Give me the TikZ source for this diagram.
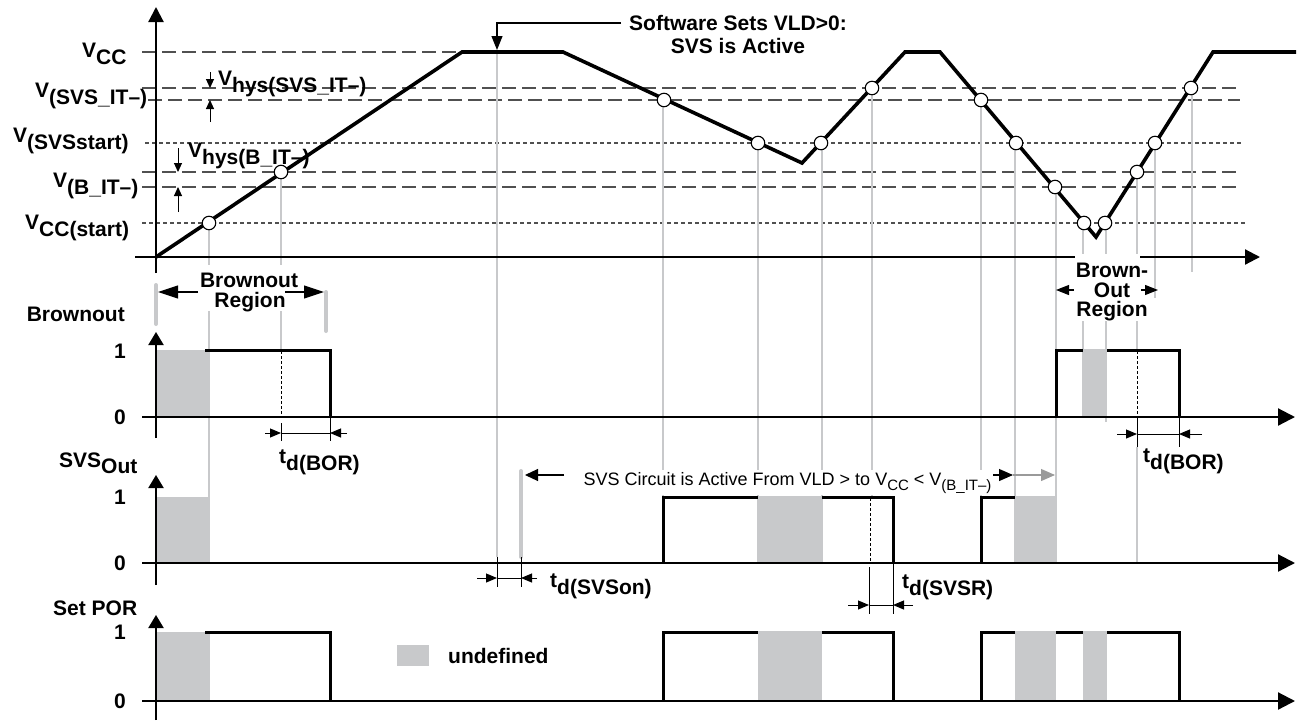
\documentclass[tikz,border=0pt]{standalone}
\usepackage{fontspec}
\setmainfont{Liberation Sans}
\usetikzlibrary{arrows.meta}
\definecolor{lg}{HTML}{C8C9CB}
\definecolor{dg}{HTML}{505050}
\definecolor{mg}{HTML}{9A9A9A}
\newcommand{\lb}{\fontsize{21}{22}\selectfont\bfseries}
\newcommand{\rg}{\fontsize{18}{19}\selectfont}
\newcommand{\dn}[1]{\raisebox{-7pt}{#1}}
\newcommand{\rdn}[1]{\raisebox{-5pt}{\fontsize{15}{15}\selectfont #1}}
\tikzset{
  lbl/.style={font=\lb, inner sep=0pt},
  refdash/.style={draw=dg, line width=1.1pt, dash pattern=on 14pt off 6pt},
  refdot/.style={draw=dg, line width=1.1pt, dash pattern=on 4pt off 3pt},
  guide/.style={draw=lg, line width=2pt},
  guidebar/.style={draw=lg, line width=4pt, line cap=round},
  axisline/.style={draw=black, line width=2.2pt},
  trace/.style={draw=black, line width=3.6pt, line join=miter},
  pulse/.style={draw=black, line width=3pt, line join=miter},
  undef/.style={fill=lg, draw=none},
  dot/.style={circle, draw=black, fill=white, line width=1.1pt, minimum size=13.5pt, inner sep=0pt},
  vtip/.style={-{Triangle[length=15pt,width=15pt]}},
  ltip/.style={-{Triangle[length=13pt,width=15pt]}},
  htip/.style={-{Triangle[length=17pt,width=17pt]}},
  dimtip/.style={line width=1pt, -{Triangle[length=11pt,width=9pt]}},
  smalltip/.style={line width=1pt, -{Triangle[length=9pt,width=8pt]}},
  tickline/.style={draw=black, line width=1pt},
  refv/.style={draw=black, line width=0.9pt, dash pattern=on 3pt off 2pt},
}
\begin{document}
\begin{tikzpicture}[x=1pt,y=-1pt]
\useasboundingbox (0,0) rectangle (1299,721);

% ---------- reference levels ----------
\draw[refdash] (142,52) -- (462,52);
\draw[refdash] (142,88) -- (1240,88);
\draw[refdash] (148,100) -- (1240,100);
\draw[refdot] (145,143) -- (1243,143);
\draw[refdash] (142,172) -- (1242,172);
\draw[refdash] (142,187) -- (1242,187);
\draw[refdot] (142,223) -- (1247,223);

% ---------- grey guide lines ----------
\draw[guide] (209,223) -- (209,265);
\draw[guide] (209,311) -- (209,563);
\draw[guide] (281,172) -- (281,265);
\draw[guide] (281,311) -- (281,350);
\draw[guide] (497,52) -- (497,557);
\draw[guide] (663,100) -- (663,497);
\draw[guide] (758,143) -- (758,563);
\draw[guide] (822,143) -- (822,563);
\draw[guide] (872,88) -- (872,497);
\draw[guide] (981,100) -- (981,497);
\draw[guide] (1015,143) -- (1015,563);
\draw[guide] (1056,187) -- (1056,563);
\draw[guide] (1083,223) -- (1083,417);
\draw[guide] (1106,223) -- (1106,422);
\draw[guide] (1137,172) -- (1137,350);
\draw[guide] (1137,447) -- (1137,563);
\draw[guide] (1155,143) -- (1155,298);
\draw[guide] (1192,88) -- (1192,272);
\draw[guidebar] (521,471) -- (521,557);
\draw[guidebar] (156,285) -- (156,324);
\draw[guidebar] (326,292) -- (326,331);

% ---------- undefined areas ----------
\fill[undef] (156,350) rectangle (210,417);
\fill[undef] (1083,348.5) rectangle (1107,417);
\fill[undef] (156,497) rectangle (210,563);
\fill[undef] (758,495.5) rectangle (822,563);
\fill[undef] (1015,495.5) rectangle (1056,563);
\fill[undef] (156,632) rectangle (210,701);
\fill[undef] (758,630.5) rectangle (822,701);
\fill[undef] (1015,630.5) rectangle (1056,701);
\fill[undef] (1083,630.5) rectangle (1107,701);
\fill[undef] (397,645) rectangle (429,666);

% ---------- axes ----------
\draw[axisline, vtip] (156,273) -- (156,7);
\draw[axisline, vtip] (135,257) -- (1260,257);
\draw[axisline, ltip] (156,438) -- (156,332);
\draw[axisline, htip] (142,417) -- (1295,417);
\draw[axisline, ltip] (156,585) -- (156,475);
\draw[axisline, htip] (142,563) -- (1295,563);
\draw[axisline, ltip] (156,720) -- (156,615);
\draw[axisline, htip] (142,701) -- (1295,701);

% ---------- analog trace ----------
\draw[trace] (156,257) -- (462,52) -- (563,52) -- (802,163) -- (905,52)
  -- (940,52) -- (1096,237) -- (1213,52) -- (1296,52);

% ---------- digital pulses ----------
% Brownout
\draw[pulse] (205,350) -| (330,417);
\draw[pulse] (1056,417) |- (1083,350);
\draw[pulse] (1107,350) -| (1179,417);
% SVS out
\draw[pulse] (663,563) |- (758,497);
\draw[pulse] (822,497) -| (893,563);
\draw[pulse] (981,563) |- (1015,497);
% Set POR
\draw[pulse] (205,632) -| (330,701);
\draw[pulse] (663,701) |- (758,632);
\draw[pulse] (822,632) -| (893,701);
\draw[pulse] (981,701) |- (1015,632);
\draw[pulse] (1056,632) -- (1083,632);
\draw[pulse] (1107,632) -| (1179,701);

% ---------- delay references ----------
\draw[refv] (281,351) -- (281,417);
\draw[refv] (1137,351) -- (1137,417);
\draw[refv] (870,498) -- (870,563);

\draw[tickline] (281,423) -- (281,441);
\draw[tickline] (330,417) -- (330,441);
\draw[tickline] (1137,417) -- (1137,447);
\draw[tickline] (1179,417) -- (1179,447);
\draw[tickline] (497,557) -- (497,587);
\draw[tickline] (521,557) -- (521,587);
\draw[tickline] (869,567) -- (869,614);
\draw[tickline] (893,563) -- (893,614);

\coordinate (bA) at (281,433); \coordinate (bB) at (330,433);
\draw[dimtip] (265,433) -- (bA);
\draw[dimtip] (347,433) -- (bB);
\draw[line width=1pt] (bA) -- (bB);
\coordinate (cA) at (1137,434); \coordinate (cB) at (1179,434);
\draw[dimtip] (1117,434) -- (cA);
\draw[dimtip] (1202,434) -- (cB);
\draw[line width=1pt] (cA) -- (cB);
\coordinate (sA) at (497,578); \coordinate (sB) at (521,578);
\draw[dimtip] (477,578) -- (sA);
\draw[dimtip] (537,578) -- (sB);
\draw[line width=1pt] (sA) -- (sB);
\coordinate (rA) at (869,605); \coordinate (rB) at (893,605);
\draw[dimtip] (848,605) -- (rA);
\draw[dimtip] (913,605) -- (rB);
\draw[line width=1pt] (rA) -- (rB);

% ---------- crossing marks ----------
\node[dot] (d1) at (209,223) {};
\node[dot] (d2) at (281,172) {};
\node[dot] (d3) at (664,100) {};
\node[dot] (d4) at (758,143) {};
\node[dot] (d5) at (821,143) {};
\node[dot] (d6) at (872,88) {};
\node[dot] (d7) at (981,100) {};
\node[dot] (d8) at (1016,143) {};
\node[dot] (d9) at (1055,187) {};
\node[dot] (d10) at (1084,223) {};
\node[dot] (d11) at (1105,223) {};
\node[dot] (d12) at (1137,172) {};
\node[dot] (d13) at (1155,143) {};
\node[dot] (d14) at (1191,88) {};

% ---------- y-axis labels (top chart) ----------
\node[lbl, anchor=base west] (lvcc) at (82,57) {V\dn{CC}};
\node[lbl, anchor=base west] (lsvsit) at (35,97) {V\dn{(SVS\_IT–)}};
\node[lbl, anchor=base west] (lsvsst) at (13,142) {V\dn{(SVSstart)}};
\node[lbl, anchor=base west] (lbit) at (53,187) {V\dn{(B\_IT–)}};
\node[lbl, anchor=base west] (lvccst) at (25,229) {V\dn{CC(start)}};

% hysteresis
\node[lbl, anchor=base west] (hys1) at (218,85) {V\dn{hys(SVS\_IT–)}};
\node[lbl, anchor=base west] (hys2) at (188,157) {V\dn{hys(B\_IT–)}};
\coordinate (h1a) at (210,88); \coordinate (h1b) at (210,100);
\draw[smalltip] (210,72) -- (h1a);
\draw[smalltip] (210,122) -- (h1b);
\coordinate (h2a) at (178,172); \coordinate (h2b) at (178,187);
\draw[smalltip] (178,148) -- (h2a);
\draw[smalltip] (178,212) -- (h2b);

% software annotation
\node[lbl, anchor=base] (sw1) at (738,30) {Software Sets VLD>0:};
\node[lbl, anchor=base] (sw2) at (738,53) {SVS is Active};
\coordinate (swStart) at (621,23);
\coordinate (swTip) at (497,50);
\draw[line width=1.1pt, -{Triangle[length=14pt,width=11pt]}] (swStart) -- (497,23) -- (swTip);

% brownout region (left)
\node[lbl, anchor=base] (br1) at (249,287) {Brownout};
\node[lbl, anchor=base] (br2) at (250,307) {Region};
\draw[line width=1.1pt, -{Triangle[length=20pt,width=13pt]}] (198,292) -- (158,292);
\draw[line width=1.1pt, -{Triangle[length=20pt,width=13pt]}] (285,292) -- (324,292);

% brown-out region (right)
\fill[white] (1075,254) rectangle (1140,321);
\node[lbl, anchor=base] (bo1) at (1112,277) {Brown-};
\node[lbl, anchor=base] (bo2) at (1112,297) {Out};
\node[lbl, anchor=base] (bo3) at (1112,316) {Region};
\draw[line width=1.1pt, -{Triangle[length=13pt,width=10pt]}] (1074,290) -- (1056,290);
\draw[line width=1.1pt, -{Triangle[length=13pt,width=10pt]}] (1141,290) -- (1158,290);

% chart names
\node[lbl, anchor=base east] (nbo) at (125,321) {Brownout};
\node[lbl, anchor=base west] (nsvs) at (59,467) {SVS\raisebox{-6pt}{Out}};
\node[lbl, anchor=base west] (npor) at (53,615) {Set POR};

% level labels
\node[lbl, anchor=base east] (b1) at (126,358) {1};
\node[lbl, anchor=base east] (b0) at (126,424) {0};
\node[lbl, anchor=base east] (s1) at (126,504) {1};
\node[lbl, anchor=base east] (s0) at (126,570) {0};
\node[lbl, anchor=base east] (p1) at (126,639) {1};
\node[lbl, anchor=base east] (p0) at (126,708) {0};

% delay labels
\node[lbl, anchor=base west] (tbor1) at (279,463) {t\dn{d(BOR)}};
\node[lbl, anchor=base west] (tbor2) at (1143,462) {t\dn{d(BOR)}};
\node[lbl, anchor=base west] (tsvson) at (550,587) {t\dn{d(SVSon)}};
\node[lbl, anchor=base west] (tsvsr) at (902,588) {t\dn{d(SVSR)}};

% SVS circuit active annotation
\node[font=\rg, fill=white, inner sep=1.5pt, anchor=base west] (act) at (582,485)
  {SVS Circuit is Active From VLD > to V\rdn{CC} < V\rdn{(B\_IT–)}};
\draw[line width=1.1pt, -{Triangle[length=13pt,width=12pt]}] (564,475) -- (525,475);
\coordinate (actM) at (1013,475);
\draw[line width=1.1pt, -{Triangle[length=14pt,width=12pt]}] (993,475) -- (actM);
\draw[draw=mg, line width=1.1pt, -{Triangle[length=14pt,width=12pt]}] (actM) -- (1055,475);

% legend
\node[lbl, anchor=base west] (leg) at (448,663) {undefined};
\end{tikzpicture}
\end{document}
